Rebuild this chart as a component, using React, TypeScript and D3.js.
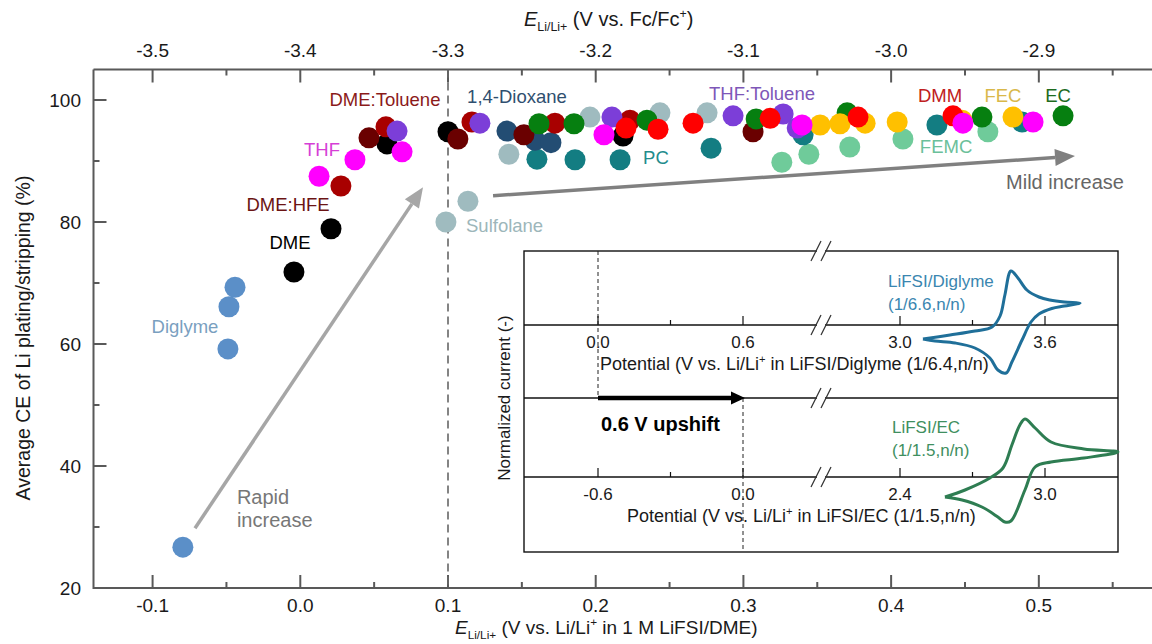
import { useEffect, useRef } from "react";
import * as d3 from "d3";

type Pt = [number, number];

// E Li/Li+ (V vs. Li/Li+ in 1 M LiFSI/DME), average CE (%)
const diglymePts: Pt[] = [[-0.0795, 26.7], [-0.049, 59.2], [-0.0483, 66.1], [-0.0442, 69.3]];
const femcPts: Pt[] = [[0.326, 89.8], [0.3443, 91.1], [0.372, 92.3], [0.408, 93.6], [0.4655, 94.8]];
const grayPts: Pt[] = [[0.0986, 80.0], [0.1135, 83.4], [0.1412, 91.1], [0.1961, 97.2], [0.2435, 97.9], [0.2754, 97.9]];
const pcPts: Pt[] = [[0.1602, 90.3], [0.186, 90.2], [0.2165, 90.2], [0.2781, 92.1], [0.3404, 94.3], [0.431, 95.9], [0.4886, 96.4]];
const dioxanePts: Pt[] = [[0.1399, 94.9], [0.1589, 93.4], [0.1697, 93.0]];
const dmePts: Pt[] = [[-0.0043, 71.8], [0.0208, 78.9], [0.0587, 92.8], [0.1, 94.8], [0.2185, 94.1]];
const maroonPts: Pt[] = [[0.0465, 93.8], [0.1067, 93.6], [0.1514, 94.3], [0.3065, 94.8]];
const hfePts: Pt[] = [[0.0275, 85.9], [0.058, 95.6], [0.1162, 96.4], [0.1724, 96.2], [0.2232, 96.7]];
const ecPts: Pt[] = [[0.1616, 96.1], [0.1853, 96.1], [0.2347, 96.7], [0.3086, 96.9], [0.3702, 97.9], [0.4615, 97.2], [0.5164, 97.4]];
const thfTolPts: Pt[] = [[0.0655, 94.9], [0.1216, 96.2], [0.211, 97.2], [0.293, 97.4], [0.3269, 97.7], [0.3364, 95.4]];
const fecPts: Pt[] = [[0.3519, 95.9], [0.3654, 96.1], [0.3824, 96.2], [0.4041, 96.4], [0.448, 96.7], [0.4825, 97.2]];
const dmmPts: Pt[] = [[0.2205, 95.4], [0.2422, 95.2], [0.2659, 96.2], [0.3181, 97.0], [0.3776, 97.2], [0.4419, 97.4]];
const thfPts: Pt[] = [[0.0127, 87.5], [0.037, 90.2], [0.0689, 91.5], [0.2056, 94.3], [0.3397, 95.9], [0.4486, 96.2], [0.4961, 96.4]];

const xTicks = [-0.1, 0, 0.1, 0.2, 0.3, 0.4, 0.5];
const xTopTicks = [-3.5, -3.4, -3.3, -3.2, -3.1, -3.0, -2.9];
const yTicks = [20, 40, 60, 80, 100];

// inset CVs: potential (V), normalized current
const cvDiglyme: Pt[] = [
  [3.095, -0.28], [3.207, -0.2], [3.31, -0.12], [3.381, -0.04], [3.414, 0.18], [3.434, 0.6], [3.459, 1.08],
  [3.488, 0.94], [3.525, 0.7], [3.575, 0.56], [3.62, 0.5], [3.68, 0.46], [3.745, 0.44],
  [3.68, 0.38], [3.628, 0.33], [3.575, 0.22], [3.542, 0.06], [3.505, -0.3], [3.463, -0.74], [3.439, -0.96],
  [3.405, -0.9], [3.372, -0.66], [3.31, -0.46], [3.228, -0.36], [3.145, -0.32], [3.095, -0.28],
];
const cvEC: Pt[] = [
  [2.586, -0.4], [2.669, -0.26], [2.772, -0.02], [2.826, 0.18], [2.863, 0.64], [2.896, 1.04], [2.917, 1.16],
  [2.959, 0.98], [3.025, 0.7], [3.161, 0.56], [3.302, 0.5],
  [3.161, 0.38], [3.025, 0.3], [2.959, 0.2], [2.917, -0.26], [2.859, -0.88], [2.834, -0.9],
  [2.805, -0.8], [2.739, -0.6], [2.657, -0.46], [2.586, -0.4],
];
const insetTicksUp = [0, 0.6, 3.0, 3.6];
const insetTicksLo = [-0.6, 0, 2.4, 3.0];

type Part = { t: string; k?: string };

function rich(text: any, parts: Part[], size: number) {
  let shift = 0;
  parts.forEach((p) => {
    const target = p.k === "sub" ? size * 0.25 : p.k === "sup" ? -size * 0.4 : 0;
    const ts = text.append("tspan").attr("dy", target - shift).text(p.t);
    shift = target;
    if (p.k === "sub" || p.k === "sup") ts.attr("font-size", size * 0.62);
    if (p.k === "i") ts.attr("font-style", "italic");
  });
}

function arrow(g: any, x1: number, y1: number, x2: number, y2: number, col: string, w: number, hl: number, hw: number) {
  const a = Math.atan2(y2 - y1, x2 - x1);
  const bx = x2 - hl * Math.cos(a), by = y2 - hl * Math.sin(a);
  g.append("line").attr("x1", x1).attr("y1", y1).attr("x2", bx).attr("y2", by)
    .attr("stroke", col).attr("stroke-width", w);
  const nx = -Math.sin(a) * hw, ny = Math.cos(a) * hw;
  g.append("polygon")
    .attr("points", `${x2},${y2} ${bx + nx},${by + ny} ${bx - nx},${by - ny}`)
    .attr("fill", col);
}

function draw(svgEl: SVGSVGElement) {
  const svg = d3.select(svgEl);
  svg.selectAll("*").remove();
  svg.attr("font-family", "'Liberation Sans', Arial, sans-serif");

  const left = 93.5, right = 1157, top = 69.5, bottom = 588;
  const x = d3.scaleLinear().domain([-0.14, 0.58]).range([left, right]);
  const xTop = d3.scaleLinear().domain([-3.54, -2.82]).range([left, right]);
  const y = d3.scaleLinear().domain([20, 105]).range([bottom, top]);
  const axisCol = "#595959";

  const ax = svg.append("g").attr("stroke", axisCol).attr("stroke-width", 2);
  ax.append("line").attr("x1", left).attr("x2", left).attr("y1", top).attr("y2", bottom + 1);
  ax.append("line").attr("x1", left).attr("x2", 1152).attr("y1", bottom).attr("y2", bottom);
  ax.append("line").attr("x1", left).attr("x2", 1152).attr("y1", top).attr("y2", top);

  xTicks.forEach((v) => {
    ax.append("line").attr("x1", x(v)).attr("x2", x(v)).attr("y1", bottom).attr("y2", bottom - 13);
    ax.append("line").attr("x1", x(v + 0.05)).attr("x2", x(v + 0.05)).attr("y1", bottom).attr("y2", bottom - 6);
  });
  xTopTicks.forEach((v) => {
    ax.append("line").attr("x1", xTop(v)).attr("x2", xTop(v)).attr("y1", top).attr("y2", top + 13);
    ax.append("line").attr("x1", xTop(v + 0.05)).attr("x2", xTop(v + 0.05)).attr("y1", top).attr("y2", top + 6);
  });
  yTicks.forEach((v) => {
    ax.append("line").attr("x1", left).attr("x2", left + 13).attr("y1", y(v)).attr("y2", y(v));
    if (v < 100) ax.append("line").attr("x1", left).attr("x2", left + 6).attr("y1", y(v + 10)).attr("y2", y(v + 10));
  });

  const lbl = svg.append("g").attr("font-size", 19).attr("fill", "#1a1a1a");
  xTicks.forEach((v) => lbl.append("text").attr("x", x(v)).attr("y", 612).attr("text-anchor", "middle").text(v.toFixed(1)));
  xTopTicks.forEach((v) => lbl.append("text").attr("x", xTop(v)).attr("y", 57).attr("text-anchor", "middle").text(v.toFixed(1)));
  yTicks.forEach((v) => lbl.append("text").attr("x", 81).attr("y", y(v) + 7).attr("text-anchor", "end").text(v));

  const bt = svg.append("text").attr("x", 455).attr("y", 634).attr("font-size", 19).attr("fill", "#1a1a1a").style("white-space", "pre");
  rich(bt, [{ t: "E", k: "i" }, { t: "Li/Li+", k: "sub" }, { t: " (V vs. Li/Li" }, { t: "+", k: "sup" }, { t: " in 1 M LiFSI/DME)" }], 19);
  const tt = svg.append("text").attr("x", 524).attr("y", 26).attr("font-size", 20).attr("fill", "#1a1a1a").style("white-space", "pre");
  rich(tt, [{ t: "E", k: "i" }, { t: "Li/Li+", k: "sub" }, { t: " (V vs. Fc/Fc" }, { t: "+", k: "sup" }, { t: ")" }], 20);
  svg.append("text").attr("transform", "translate(30,338) rotate(-90)").attr("text-anchor", "middle")
    .attr("font-size", 19.5).attr("fill", "#1a1a1a").text("Average CE of Li plating/stripping (%)");

  // dashed line at 0.1 V
  svg.append("line").attr("x1", x(0.1)).attr("x2", x(0.1)).attr("y1", top).attr("y2", bottom)
    .attr("stroke", "#666").attr("stroke-width", 1.6).attr("stroke-dasharray", "8,5");

  // guide arrows
  arrow(svg, x(-0.0713), y(29.8), x(0.0831), y(85.7), "#a6a6a6", 3.5, 20, 8.5);
  arrow(svg, x(0.1305), y(84.3), x(0.5245), y(90.8), "#808080", 3.5, 20, 8.5);

  const groups = [
    { pts: femcPts, col: "#6fcb9a" },
    { pts: grayPts, col: "#9fbbbf" },
    { pts: pcPts, col: "#137d82" },
    { pts: dioxanePts, col: "#234d73" },
    { pts: dmePts, col: "#000000" },
    { pts: maroonPts, col: "#6a0000" },
    { pts: hfePts, col: "#a80000" },
    { pts: ecPts, col: "#067f10" },
    { pts: thfTolPts, col: "#7c3ed8" },
    { pts: fecPts, col: "#ffc000" },
    { pts: dmmPts, col: "#ff0000" },
    { pts: thfPts, col: "#ff00ff" },
    { pts: diglymePts, col: "#5b8fc8" },
  ];
  const dots = svg.append("g");
  groups.forEach((gr) => {
    dots.selectAll(null).data(gr.pts).enter().append("circle")
      .attr("cx", (d: Pt) => x(d[0])).attr("cy", (d: Pt) => y(d[1])).attr("r", 10.5).attr("fill", gr.col);
  });

  const labels: [string, number, number, string, string, number][] = [
    ["DME:Toluene", 0.0573, 100.0, "#8b1a1a", "middle", 18.5],
    ["1,4-Dioxane", 0.1467, 100.5, "#2f4f6f", "middle", 18.5],
    ["THF", 0.0147, 91.8, "#d63fd6", "middle", 18.5],
    ["DME:HFE", -0.0083, 82.8, "#6b1414", "middle", 18.5],
    ["DME", -0.007, 76.6, "#000", "middle", 18.5],
    ["Sulfolane", 0.1122, 79.5, "#9db6ba", "start", 18.5],
    ["Diglyme", -0.0781, 62.8, "#7a9fbf", "middle", 18.5],
    ["THF:Toluene", 0.3126, 101.0, "#7e57b8", "middle", 18.5],
    ["PC", 0.2408, 90.5, "#238c8c", "middle", 18.5],
    ["DMM", 0.4331, 100.8, "#c02020", "middle", 18.5],
    ["FEC", 0.4757, 100.8, "#d9b84a", "middle", 18.5],
    ["EC", 0.513, 100.8, "#1e6b1e", "middle", 18.5],
    ["FEMC", 0.4372, 92.3, "#6bc09a", "middle", 18.5],
    ["Mild increase", 0.5177, 86.6, "#666", "middle", 20],
    ["Rapid", -0.0429, 34.9, "#777", "start", 20],
    ["increase", -0.0429, 31.1, "#777", "start", 20],
  ];
  labels.forEach(([t, lx, ly, c, anc, fs]) => {
    svg.append("text").attr("x", x(lx)).attr("y", y(ly)).attr("dy", "0.35em").attr("text-anchor", anc)
      .attr("font-size", fs).attr("fill", c).text(t);
  });

  // ---- inset ----
  const ins = { x0: 524, x1: 1118, y0: 251, y1: 552, a1: 325, dv: 398, a2: 477 };
  const inset = svg.append("g");
  inset.append("rect").attr("x", ins.x0).attr("y", ins.y0).attr("width", ins.x1 - ins.x0).attr("height", ins.y1 - ins.y0)
    .attr("fill", "#fff").attr("stroke", "#111").attr("stroke-width", 1.4);
  [ins.a1, ins.dv, ins.a2].forEach((yy) => {
    inset.append("line").attr("x1", ins.x0).attr("x2", ins.x1).attr("y1", yy).attr("y2", yy)
      .attr("stroke", "#111").attr("stroke-width", 1.4);
  });

  const lo = d3.scaleLinear().domain([0, 0.6]).range([598, 743]);
  const hi = d3.scaleLinear().domain([3.0, 3.6]).range([900, 1045]);
  const ix = (v: number) => (v < 1.8 ? lo(v) : hi(v));

  // break marks
  const bx = 821;
  [ins.y0, ins.a1, ins.dv, ins.a2].forEach((yy) => {
    inset.append("rect").attr("x", bx - 4).attr("y", yy - 2).attr("width", 8).attr("height", 4).attr("fill", "#fff");
    [-5, 5].forEach((o) => {
      inset.append("line").attr("x1", bx + o - 5).attr("y1", yy + 10).attr("x2", bx + o + 5).attr("y2", yy - 10)
        .attr("stroke", "#333").attr("stroke-width", 1.2);
    });
  });

  // ticks and labels of both inset axes
  insetTicksUp.forEach((v, i) => {
    [ins.a1, ins.a2].forEach((yy, j) => {
      inset.append("line").attr("x1", ix(v)).attr("x2", ix(v)).attr("y1", yy).attr("y2", yy - 9)
        .attr("stroke", "#111").attr("stroke-width", 1.2);
      const lab = j === 0 ? insetTicksUp[i] : insetTicksLo[i];
      inset.append("text").attr("x", ix(v)).attr("y", yy + 23).attr("text-anchor", "middle")
        .attr("font-size", 17).attr("fill", "#1a1a1a").text(lab.toFixed(1));
    });
  });
  [0.3, 3.3].forEach((v) => {
    [ins.a1, ins.a2].forEach((yy) => {
      inset.append("line").attr("x1", ix(v)).attr("x2", ix(v)).attr("y1", yy).attr("y2", yy - 5)
        .attr("stroke", "#111").attr("stroke-width", 1.2);
    });
  });

  inset.append("line").attr("x1", lo(0)).attr("x2", lo(0)).attr("y1", ins.y0).attr("y2", ins.dv)
    .attr("stroke", "#222").attr("stroke-width", 1).attr("stroke-dasharray", "4,3");
  inset.append("line").attr("x1", lo(0.6)).attr("x2", lo(0.6)).attr("y1", ins.dv).attr("y2", ins.y1)
    .attr("stroke", "#222").attr("stroke-width", 1).attr("stroke-dasharray", "4,3");

  const t1 = inset.append("text").attr("x", 600).attr("y", 370).attr("font-size", 18).attr("fill", "#1a1a1a").style("white-space", "pre");
  rich(t1, [{ t: "Potential (V vs. Li/Li" }, { t: "+", k: "sup" }, { t: " in LiFSI/Diglyme (1/6.4,n/n)" }], 18);
  const t2 = inset.append("text").attr("x", 627).attr("y", 522).attr("font-size", 18).attr("fill", "#1a1a1a").style("white-space", "pre");
  rich(t2, [{ t: "Potential (V vs. Li/Li" }, { t: "+", k: "sup" }, { t: " in LiFSI/EC (1/1.5,n/n)" }], 18);

  svg.append("text").attr("transform", "translate(504,398) rotate(-90)").attr("text-anchor", "middle")
    .attr("dy", "0.35em").attr("font-size", 17).attr("fill", "#1a1a1a").text("Normalized current (-)");

  arrow(inset, lo(0), ins.dv, lo(0.6) + 2, ins.dv, "#000", 4.5, 14, 6.5);
  inset.append("text").attr("x", 601).attr("y", 431).attr("font-size", 20).attr("font-weight", "bold")
    .attr("fill", "#000").text("0.6 V upshift");

  const yUp = d3.scaleLinear().domain([0, 1]).range([ins.a1, ins.a1 - 50]);
  const yLo = d3.scaleLinear().domain([0, 1]).range([ins.a2, ins.a2 - 50]);
  const hiLo = d3.scaleLinear().domain([2.4, 3.0]).range([900, 1045]);
  const lineUp = d3.line<Pt>().x((d) => hi(d[0])).y((d) => yUp(d[1])).curve(d3.curveCatmullRom.alpha(0.5));
  const lineLo = d3.line<Pt>().x((d) => hiLo(d[0])).y((d) => yLo(d[1])).curve(d3.curveCatmullRom.alpha(0.5));
  inset.append("path").attr("d", lineUp(cvDiglyme)).attr("fill", "none").attr("stroke", "#1f6f99")
    .attr("stroke-width", 3).attr("stroke-linejoin", "round");
  inset.append("path").attr("d", lineLo(cvEC)).attr("fill", "none").attr("stroke", "#2e7d52")
    .attr("stroke-width", 3).attr("stroke-linejoin", "round");

  inset.append("text").attr("x", 888).attr("y", 287).attr("font-size", 17).attr("fill", "#3a86b0").text("LiFSI/Diglyme");
  inset.append("text").attr("x", 888).attr("y", 310).attr("font-size", 17).attr("fill", "#3a86b0").text("(1/6.6,n/n)");
  inset.append("text").attr("x", 892).attr("y", 433).attr("font-size", 17).attr("fill", "#3f8f5f").text("LiFSI/EC");
  inset.append("text").attr("x", 892).attr("y", 456).attr("font-size", 17).attr("fill", "#3f8f5f").text("(1/1.5,n/n)");
}

const App = () => {
  const svgRef = useRef<SVGSVGElement>(null);

  useEffect(() => {
    document.body.style.margin = "0";
    if (svgRef.current) draw(svgRef.current);
  }, []);

  return <svg ref={svgRef} width={1152} height={644} style={{ display: "block", background: "#fff" }} />;
};

export default App;
